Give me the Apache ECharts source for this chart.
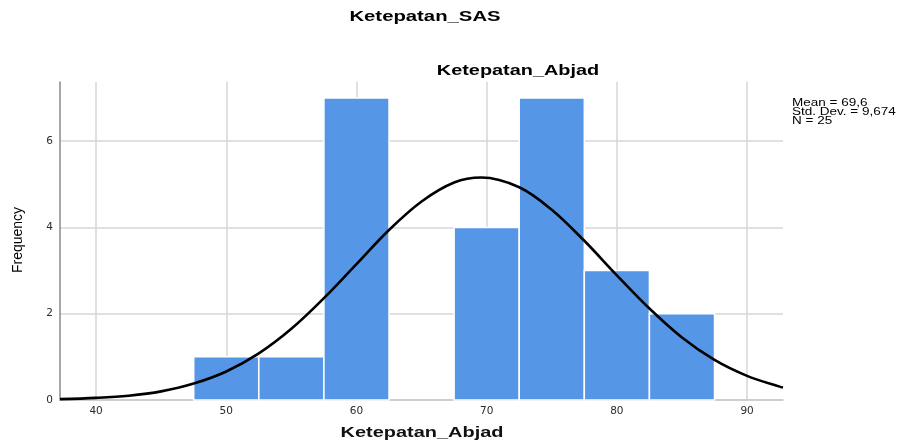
<!DOCTYPE html>
<html>
<head>
<meta charset="utf-8">
<script src="https://cdn.jsdelivr.net/npm/echarts@6/dist/echarts.min.js"></script>
<style>html,body{margin:0;padding:0;background:#fff}#c{width:897px;height:444px}</style>
</head>
<body>
<div id="c"></div>
<script>
// Histogram bins (lower edge, upper edge) and frequencies
const binStarts = [47.5, 52.5, 57.5, 62.5, 67.5, 72.5, 77.5, 82.5];
const binEnds   = [52.5, 57.5, 62.5, 67.5, 72.5, 77.5, 82.5, 87.5];
const frequencies = [1, 1, 7, 0, 4, 7, 3, 2];
// Normal curve points
const curveX = [37.23, 40, 42.5, 45, 47.5, 50, 52.5, 55, 57.5, 60, 62.5, 65, 67.5, 69.6, 72.5, 75, 77.5, 80, 82.5, 85, 87.5, 90, 92.5, 92.76];
const curveY = [0.02, 0.05, 0.10, 0.20, 0.38, 0.66, 1.08, 1.65, 2.36, 3.15, 3.94, 4.60, 5.04, 5.155, 4.93, 4.41, 3.69, 2.89, 2.12, 1.45, 0.93, 0.56, 0.31, 0.29];
const xTicks = [40, 50, 60, 70, 80, 90];
const yTicks = [0, 2, 4, 6];
const statsLines = ['Mean = 69,6', 'Std. Dev. = 9,674', 'N = 25'];

const histData = binStarts.map((s, i) => [s, binEnds[i], frequencies[i]]);
const curveData = curveX.map((x, i) => [x, curveY[i]]);

const chart = echarts.init(document.getElementById('c'));
const tf = 'DejaVu Sans';
chart.setOption({
  animation: false,
  grid: { left: 60, right: 114, top: 82, bottom: 44 },
  xAxis: {
    type: 'value', min: 37.23, max: 92.76,
    axisLine: { show: true, lineStyle: { color: '#c8c8c8', width: 1.5 } },
    axisTick: { show: false, customValues: xTicks },
    splitLine: { show: true, lineStyle: { color: '#d6d6d6', width: 1.5 } },
    axisLabel: { fontFamily: tf, fontSize: 10.5, color: '#2b2b2b', margin: 6, customValues: xTicks },
    axisPointer: { show: false }
  },
  yAxis: {
    type: 'value', min: 0, max: 7.37,
    axisLine: { show: true, onZero: false, lineStyle: { color: '#8a8a8a', width: 1.5 } },
    axisTick: { show: false, customValues: yTicks },
    splitLine: { show: true, lineStyle: { color: '#d6d6d6', width: 1.5 } },
    axisLabel: { fontFamily: tf, fontSize: 10.5, color: '#2b2b2b', margin: 7, customValues: yTicks }
  },
  series: [
    {
      type: 'custom',
      data: histData,
      encode: { x: [0, 1], y: 2 },
      renderItem: function (params, api) {
        const p0 = api.coord([api.value(0), 0]);
        const p1 = api.coord([api.value(1), api.value(2)]);
        if (api.value(2) <= 0) return null;
        return {
          type: 'rect',
          shape: { x: p0[0], y: p1[1], width: p1[0] - p0[0], height: p0[1] - p1[1] },
          style: { fill: '#5596e6', stroke: '#ffffff', lineWidth: 1.5 }
        };
      },
      z: 2
    },
    {
      type: 'line',
      data: curveData,
      smooth: 0.35,
      showSymbol: false,
      lineStyle: { color: '#000', width: 2.6 },
      z: 3
    }
  ],
  graphic: [
    { type: 'text', x: 425, y: 17, scaleX: 1.45, style: { text: 'Ketepatan_SAS', fontFamily: 'Liberation Sans', fontWeight: 'bold', fontSize: 14, fill: '#000', align: 'center', verticalAlign: 'middle' } },
    { type: 'text', x: 518, y: 71, scaleX: 1.42, style: { text: 'Ketepatan_Abjad', fontFamily: 'Liberation Sans', fontWeight: 'bold', fontSize: 14, fill: '#000', align: 'center', verticalAlign: 'middle' } },
    { type: 'text', x: 422, y: 433, scaleX: 1.33, style: { text: 'Ketepatan_Abjad', fontFamily: 'Liberation Sans', fontWeight: 'bold', fontSize: 15, fill: '#111', align: 'center', verticalAlign: 'middle' } },
    { type: 'text', x: 18, y: 240, rotation: Math.PI / 2, style: { text: 'Frequency', fontFamily: 'Liberation Sans Narrow, Liberation Sans', fontSize: 14, fill: '#000', align: 'center', verticalAlign: 'middle' } },
    { type: 'text', x: 792, y: 103, scaleX: 1.35, style: { text: statsLines[0], fontFamily: 'Liberation Sans', fontSize: 10, fill: '#000', align: 'left', verticalAlign: 'middle' } },
    { type: 'text', x: 792, y: 112, scaleX: 1.35, style: { text: statsLines[1], fontFamily: 'Liberation Sans', fontSize: 10, fill: '#000', align: 'left', verticalAlign: 'middle' } },
    { type: 'text', x: 792, y: 121, scaleX: 1.35, style: { text: statsLines[2], fontFamily: 'Liberation Sans', fontSize: 10, fill: '#000', align: 'left', verticalAlign: 'middle' } }
  ]
});
</script>
</body>
</html>
